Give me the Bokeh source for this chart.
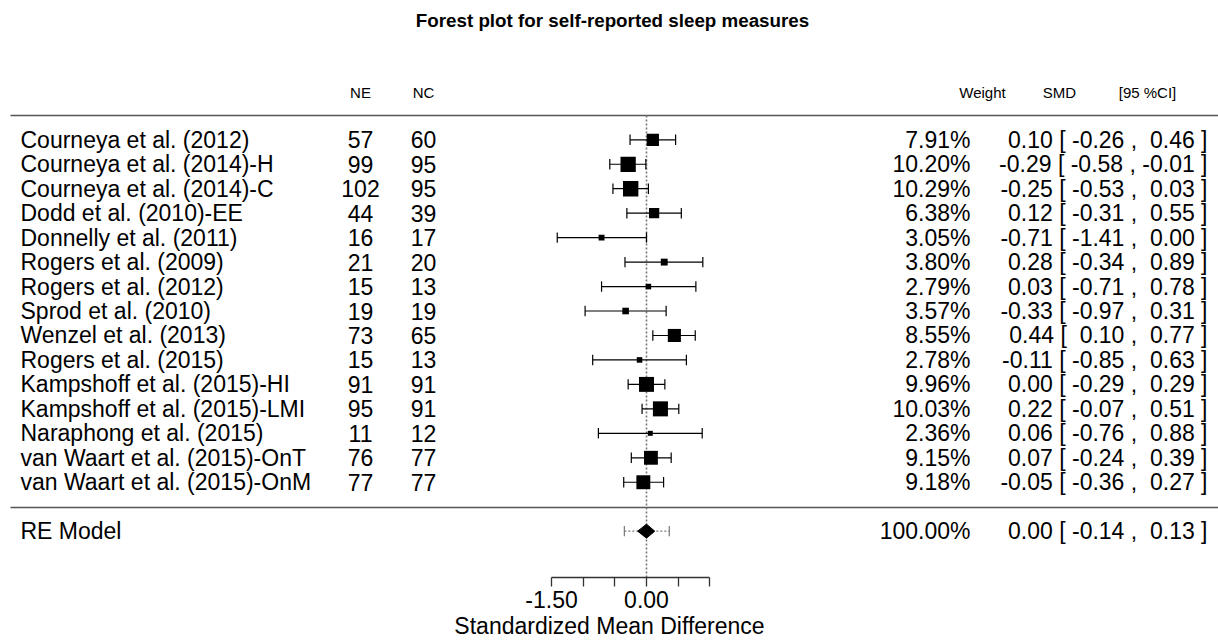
from bokeh.plotting import figure
from bokeh.models import Range1d, LinearAxis, FixedTicker, ColumnDataSource
from bokeh.core.properties import value
from bokeh.embed import file_html
from bokeh.resources import INLINE

# ---------------- data ----------------
studies = ["Courneya et al. (2012)", "Courneya et al. (2014)-H", "Courneya et al. (2014)-C",
           "Dodd et al. (2010)-EE", "Donnelly et al. (2011)", "Rogers et al. (2009)",
           "Rogers et al. (2012)", "Sprod et al. (2010)", "Wenzel et al. (2013)",
           "Rogers et al. (2015)", "Kampshoff et al. (2015)-HI", "Kampshoff et al. (2015)-LMI",
           "Naraphong et al. (2015)", "van Waart et al. (2015)-OnT", "van Waart et al. (2015)-OnM"]
ne = [57, 99, 102, 44, 16, 21, 15, 19, 73, 15, 91, 95, 11, 76, 77]
nc = [60, 95, 95, 39, 17, 20, 13, 19, 65, 13, 91, 91, 12, 77, 77]
weights = [7.91, 10.20, 10.29, 6.38, 3.05, 3.80, 2.79, 3.57, 8.55, 2.78, 9.96, 10.03, 2.36, 9.15, 9.18]
smd = [0.10, -0.29, -0.25, 0.12, -0.71, 0.28, 0.03, -0.33, 0.44, -0.11, 0.00, 0.22, 0.06, 0.07, -0.05]
ci_lo = [-0.26, -0.58, -0.53, -0.31, -1.41, -0.34, -0.71, -0.97, 0.10, -0.85, -0.29, -0.07, -0.76, -0.24, -0.36]
ci_hi = [0.46, -0.01, 0.03, 0.55, 0.00, 0.89, 0.78, 0.31, 0.77, 0.63, 0.29, 0.51, 0.88, 0.39, 0.27]

re_label = "RE Model"
re_weight = 100.00
re_est, re_lo, re_hi = 0.00, -0.14, 0.13
pi_lo, pi_hi = -0.35, 0.36

tick_values = [-1.5, -1.0, -0.5, 0.0, 0.5, 1.0]
tick_labels = {-1.5: "-1.50", 0.0: "0.00"}

title_text = "Forest plot for self-reported sleep measures"
xlabel = "Standardized Mean Difference"

# ---------------- layout helpers ----------------
W, H = 1218, 642
PXU = 63.3        # pixels per SMD unit
X0 = 646.0        # pixel of SMD 0
ROW = 24.46       # pixels per row
Y_TOP_ROW = 139.3 # pixel of first study row
AXIS_PX = 577     # pixel row of x axis line


def xp(px):
    return (px - X0) / PXU


def yp(py):
    return 15 - (py - Y_TOP_ROW) / ROW


k = len(studies)
rows = [k - i for i in range(k)]   # 15 .. 1
re_row = -1

FONT = "Liberation Sans"
BODY = "23px"
HEAD = "15px"

p = figure(width=W, height=H, output_backend="svg", toolbar_location=None,
           x_range=Range1d(xp(0), xp(W)), y_range=Range1d(yp(AXIS_PX), yp(0)),
           min_border_left=0, min_border_right=0, min_border_top=0,
           min_border_bottom=H - AXIS_PX,
           x_axis_location=None, y_axis_location=None)
p.outline_line_color = None
p.xgrid.visible = False
p.ygrid.visible = False
p.background_fill_color = "white"
p.border_fill_color = "white"

# axis
ax = LinearAxis(ticker=FixedTicker(ticks=tick_values), bounds=(min(tick_values), max(tick_values)),
                major_label_overrides={t: tick_labels.get(t, "") for t in tick_values},
                axis_label=xlabel)
ax.major_tick_in = 0
ax.major_tick_out = 9
ax.minor_tick_out = 0
ax.minor_tick_in = 0
ax.axis_line_color = "#333333"
ax.major_tick_line_color = "#333333"
ax.axis_line_width = 1.3
ax.major_tick_line_width = 1.3
ax.major_label_text_font = FONT
ax.major_label_text_font_size = BODY
ax.major_label_text_color = "black"
ax.major_label_standoff = 4
ax.axis_label_text_font = FONT
ax.axis_label_text_font_size = BODY
ax.axis_label_text_font_style = "normal"
ax.axis_label_text_color = "black"
ax.axis_label_standoff = 2
p.add_layout(ax, "below")

# separators
p.segment(x0=[xp(10), xp(10)], x1=[xp(W), xp(W)], y0=[yp(115), yp(507)], y1=[yp(115), yp(507)],
          line_color="#555555", line_width=1.5)

# reference line at 0
p.segment(x0=[0], x1=[0], y0=[yp(115)], y1=[yp(AXIS_PX)], line_color="#777777",
          line_width=1.6, line_dash="2 2")

# study CIs
cap = 5.2 / ROW
src = ColumnDataSource(dict(y=rows, smd=smd, lo=ci_lo, hi=ci_hi,
                            ya=[r - cap for r in rows], yb=[r + cap for r in rows],
                            size=[1.9 + 1.31 * w for w in weights]))
p.segment(x0="lo", x1="hi", y0="y", y1="y", source=src, line_color="black", line_width=1.2)
p.segment(x0="lo", x1="lo", y0="ya", y1="yb", source=src, line_color="black", line_width=1.2)
p.segment(x0="hi", x1="hi", y0="ya", y1="yb", source=src, line_color="black", line_width=1.2)
p.scatter(x="smd", y="y", size="size", marker="square", source=src,
          fill_color="black", line_color=None)

# RE model: prediction interval + diamond
p.segment(x0=[pi_lo], x1=[pi_hi], y0=[re_row], y1=[re_row], line_color="#777777",
          line_width=1.2, line_dash="2 2")
p.segment(x0=[pi_lo, pi_hi], x1=[pi_lo, pi_hi], y0=[re_row - cap] * 2, y1=[re_row + cap] * 2,
          line_color="#777777", line_width=1.2)
dh = 7.0 / ROW
p.patch(x=[re_lo, re_est, re_hi, re_est], y=[re_row, re_row + dh, re_row, re_row - dh],
        fill_color="black", line_color="black", line_width=1)


def txt(x, y, t, align, size=BODY, style="normal"):
    p.text(x=x, y=y, text=t, text_align=align, text_baseline="middle",
           text_font=value(FONT), text_font_size=size, text_font_style=style,
           text_color="black")


def fmt_ci(e, l, h):
    return f"{e:.2f} [ {l:5.2f} , {h:5.2f} ]".replace("  ", " \u00a0")


# body text
txt([xp(20)] * k, rows, studies, "left")
txt([xp(360)] * k, rows, [str(v) for v in ne], "center")
txt([xp(423)] * k, rows, [str(v) for v in nc], "center")
txt([xp(970)] * k, rows, [f"{w:.2f}%" for w in weights], "right")
txt([xp(1207)] * k, rows, [fmt_ci(e, l, h) for e, l, h in zip(smd, ci_lo, ci_hi)], "right")

txt([xp(20)], [re_row], [re_label], "left")
txt([xp(970)], [re_row], [f"{re_weight:.2f}%"], "right")
txt([xp(1207)], [re_row], [fmt_ci(re_est, re_lo, re_hi)], "right")

# headers
hy = yp(92)
txt([xp(360), xp(423)], [hy, hy], ["NE", "NC"], "center", HEAD)
txt([xp(982), xp(1059), xp(1147)], [hy] * 3, ["Weight", "SMD", "[95 %CI]"], "center", HEAD)

# title
txt([xp(612)], [yp(20)], [title_text], "center", "18.8px", "bold")

open("out.html", "w").write(file_html(p, INLINE))
